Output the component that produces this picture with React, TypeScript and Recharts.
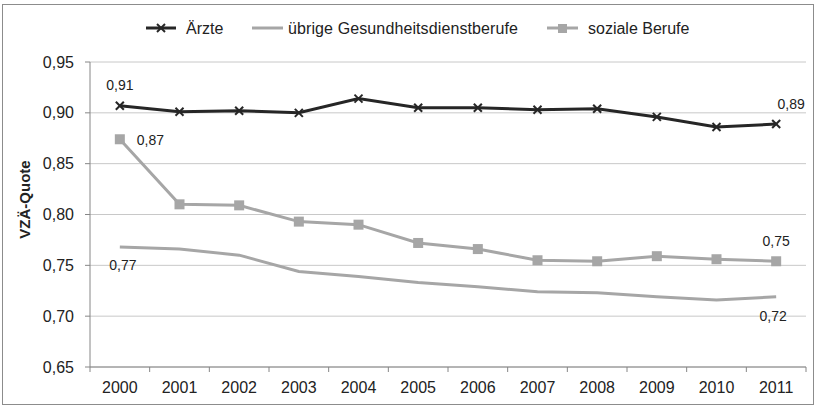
import React from "react";
import { LineChart, Line, XAxis, YAxis, CartesianGrid } from "recharts";

const years = ["2000", "2001", "2002", "2003", "2004", "2005", "2006", "2007", "2008", "2009", "2010", "2011"];
const aerzte = [0.907, 0.901, 0.902, 0.9, 0.914, 0.905, 0.905, 0.903, 0.904, 0.896, 0.886, 0.889];
const uebrige = [0.768, 0.766, 0.76, 0.744, 0.739, 0.733, 0.729, 0.724, 0.723, 0.719, 0.716, 0.719];
const soziale = [0.874, 0.81, 0.809, 0.793, 0.79, 0.772, 0.766, 0.755, 0.754, 0.759, 0.756, 0.754];
const yTicks = [0.65, 0.7, 0.75, 0.8, 0.85, 0.9, 0.95];

const data = years.map((year, i) => ({
  year,
  aerzte: aerzte[i],
  uebrige: uebrige[i],
  soziale: soziale[i],
}));

const FONT = "'Liberation Sans', Arial, sans-serif";
const DARK = "#262626";
const GREY = "#a6a6a6";
const BAND = 716 / 12;

const fmt = (v: number) => v.toFixed(2).replace(".", ",");

const XTick = (props: any) => {
  const { x, y, payload, index } = props;
  return (
    <g>
      <line x1={x - BAND / 2} x2={x - BAND / 2} y1={y - 8} y2={y - 3} stroke="#868686" />
      {index === years.length - 1 && (
        <line x1={x + BAND / 2} x2={x + BAND / 2} y1={y - 8} y2={y - 3} stroke="#868686" />
      )}
      <text x={x} y={y + 18} textAnchor="middle" fontSize={16} fill="#222" fontFamily={FONT}>
        {payload.value}
      </text>
    </g>
  );
};

const YTick = (props: any) => {
  const { x, y, payload } = props;
  return (
    <text x={x - 9} y={y} textAnchor="end" dominantBaseline="central" fontSize={16} fill="#222" fontFamily={FONT}>
      {fmt(payload.value)}
    </text>
  );
};

const Cross = (props: any) => {
  const { cx, cy } = props;
  if (cx == null || cy == null) return null;
  return (
    <g stroke={DARK} strokeWidth={2}>
      <line x1={cx - 4} y1={cy - 4} x2={cx + 4} y2={cy + 4} />
      <line x1={cx - 4} y1={cy + 4} x2={cx + 4} y2={cy - 4} />
    </g>
  );
};

const Square = (props: any) => {
  const { cx, cy } = props;
  if (cx == null || cy == null) return null;
  return <rect x={cx - 5} y={cy - 5} width={10} height={10} fill={GREY} />;
};

const makeLabel = (first: [number, number, string], last: [number, number, string]) => (props: any) => {
  const { x, y, value, index } = props;
  let o: [number, number, string] | null = null;
  if (index === 0) o = first;
  if (index === years.length - 1) o = last;
  if (!o) return null;
  return (
    <text x={x + o[0]} y={y + o[1]} textAnchor={o[2] as any} dominantBaseline="middle" fontSize={14} fill="#222" fontFamily={FONT}>
      {fmt(value)}
    </text>
  );
};

const Legend = () => (
  <svg width={816} height={24} style={{ position: "absolute", left: 0, top: 16 }}>
    <line x1={146} x2={176} y1={12} y2={12} stroke={DARK} strokeWidth={3} />
    <g stroke={DARK} strokeWidth={2}>
      <line x1={157} y1={8} x2={165} y2={16} />
      <line x1={157} y1={16} x2={165} y2={8} />
    </g>
    <line x1={252} x2={283} y1={12} y2={12} stroke={GREY} strokeWidth={3} />
    <line x1={547} x2={578} y1={12} y2={12} stroke={GREY} strokeWidth={3} />
    <rect x={558} y={8} width={9} height={9} fill={GREY} />
    <text x={186} y={17.5} fontSize={16} fill="#222" fontFamily={FONT}>Ärzte</text>
    <text x={288} y={17.5} fontSize={16} fill="#222" fontFamily={FONT} textLength={230}>übrige Gesundheitsdienstberufe</text>
    <text x={588} y={17.5} fontSize={16} fill="#222" fontFamily={FONT}>soziale Berufe</text>
  </svg>
);

export default function App() {
  return (
    <div style={{ position: "absolute", left: 0, top: 0, width: 816, height: 405, background: "#fff", fontFamily: FONT }}>
      <div style={{ position: "absolute", left: 2, top: 4, width: 812, height: 401, border: "1px solid #8c8c8c", boxSizing: "border-box" }} />
      <Legend />
      <LineChart width={816} height={405} data={data} margin={{ top: 62, right: 10, bottom: 0, left: 0 }}>
        <CartesianGrid vertical={false} stroke="#c8c8c8" />
        <XAxis
          dataKey="year"
          height={38}
          stroke="#868686"
          tickLine={false}
          tick={<XTick />}
          interval={0}
          padding={{ left: BAND / 2, right: BAND / 2 }}
        />
        <YAxis
          width={90}
          domain={[0.65, 0.95]}
          ticks={yTicks}
          stroke="#868686"
          tickSize={5}
          tick={<YTick />}
          label={{
            value: "VZÄ-Quote",
            angle: -90,
            position: "insideLeft",
            offset: 25,
            dy: -15,
            style: { fontSize: 15, fontWeight: "bold", fill: "#222", fontFamily: FONT, textAnchor: "middle" },
          }}
        />
        <Line
          dataKey="uebrige"
          stroke={GREY}
          strokeWidth={3}
          dot={false}
          isAnimationActive={false}
          label={makeLabel([3, 19, "middle"], [-3, 20, "middle"])}
        />
        <Line
          dataKey="soziale"
          stroke={GREY}
          strokeWidth={3}
          dot={<Square />}
          isAnimationActive={false}
          label={makeLabel([17, 2, "start"], [0, -19, "middle"])}
        />
        <Line
          dataKey="aerzte"
          stroke={DARK}
          strokeWidth={3}
          dot={<Cross />}
          isAnimationActive={false}
          label={makeLabel([0, -19, "middle"], [15, -19, "middle"])}
        />
      </LineChart>
    </div>
  );
}
